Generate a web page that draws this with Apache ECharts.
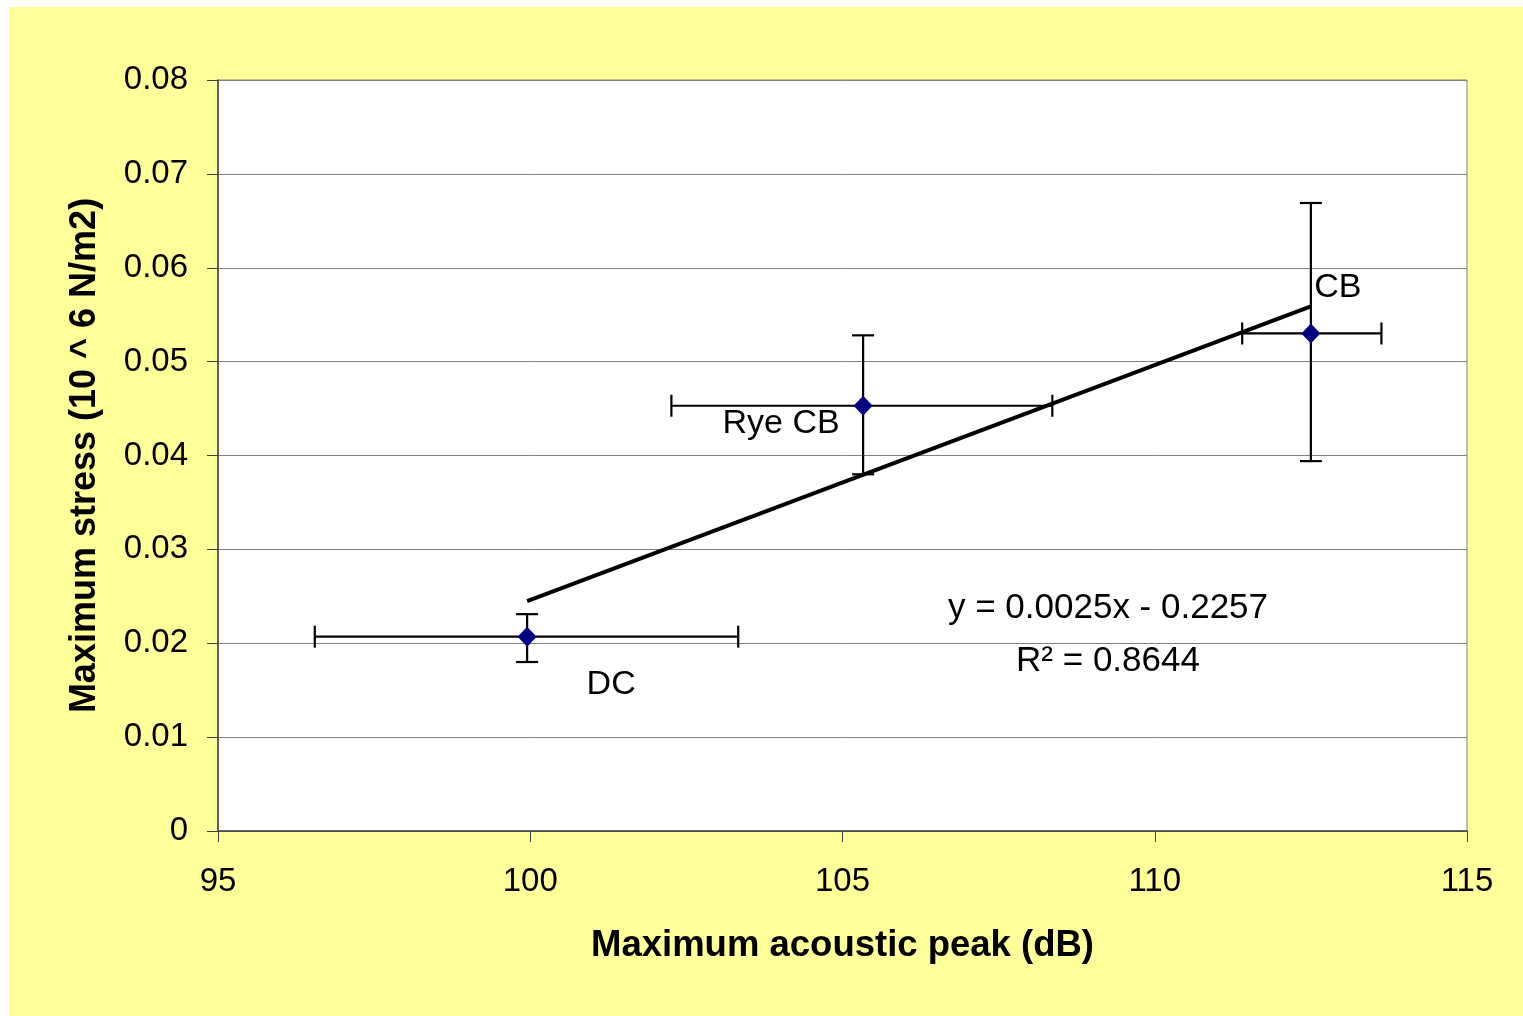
<!DOCTYPE html>
<html>
<head>
<meta charset="utf-8">
<title>Maximum stress vs maximum acoustic peak</title>
<script src="https://cdn.jsdelivr.net/npm/echarts@6/dist/echarts.min.js"></script>
<style>
  html, body { margin: 0; padding: 0; background: #ffffff; }
  #chart { width: 1523px; height: 1016px; }
</style>
</head>
<body>
<div id="chart"></div>
<script>
// Sites and measured values (mean with range for each site)
const sites = ['DC', 'Rye CB', 'CB'];
const peakDb = [99.95, 105.33, 112.5];
const peakDbLow = [96.55, 102.26, 111.4];
const peakDbHigh = [103.33, 108.36, 113.63];
const stress = [0.0207, 0.0453, 0.0530];
const stressLow = [0.0180, 0.0380, 0.0394];
const stressHigh = [0.0231, 0.0528, 0.0669];

// Axis ticks
const xTicks = [95, 100, 105, 110, 115];
const yTicks = ['0', '0.01', '0.02', '0.03', '0.04', '0.05', '0.06', '0.07', '0.08'];

// Linear trendline (coefficients shown rounded to 4 decimals)
const trendSlope = 0.002503;
const trendIntercept = -0.2257;
const trendR2 = 0.8644;

const FONT = "'Liberation Sans', Arial, sans-serif";

// Label placement around each marker (pixels)
const labelShift = { 'DC': [84, 48], 'Rye CB': [-82, 18], 'CB': [27, -46] };

const xMinData = Math.min(...peakDb);
const xMaxData = Math.max(...peakDb);
const trendPoints = [xMinData, xMaxData].map(x => [x, trendSlope * x + trendIntercept]);

const errorData = sites.map((s, i) => [peakDb[i], stress[i], peakDbLow[i], peakDbHigh[i], stressLow[i], stressHigh[i]]);

const labelBase = {
  show: true, position: 'inside',
  fontFamily: FONT, fontSize: 34, color: '#000000',
  textBorderWidth: 0, opacity: 1
};

const scatterData = sites.map((s, i) => ({
  name: s,
  value: [peakDb[i], stress[i]],
  label: Object.assign({}, labelBase, { offset: labelShift[s], formatter: s })
}));

const eqText = 'y = ' + trendSlope.toFixed(4) + 'x ' + (trendIntercept < 0 ? '- ' : '+ ') +
  Math.abs(trendIntercept).toFixed(4) + '\nR\u00B2 = ' + trendR2.toFixed(4);

const chart = echarts.init(document.getElementById('chart'), null, { renderer: 'canvas' });

chart.setOption({
  backgroundColor: '#ffffff',
  animation: false,
  textStyle: { fontFamily: FONT },
  graphic: [
    {
      type: 'rect', left: 9, top: 7, z: -10, silent: true,
      shape: { width: 1514, height: 1009 },
      style: { fill: '#FFFF99' }
    },
    {
      type: 'text', x: 1108, y: 635, z: 10, silent: true,
      style: {
        text: eqText, fontFamily: FONT, fontSize: 35, lineHeight: 53,
        fill: '#000000', align: 'center', verticalAlign: 'middle'
      }
    }
  ],
  grid: {
    left: 218, top: 80, right: 56, bottom: 185,
    show: true, backgroundColor: '#ffffff',
    borderColor: '#808080', borderWidth: 1
  },
  xAxis: {
    type: 'value',
    min: xTicks[0], max: xTicks[xTicks.length - 1], interval: xTicks[1] - xTicks[0],
    name: 'Maximum acoustic peak (dB)',
    nameLocation: 'middle', nameGap: 96,
    nameTextStyle: { fontFamily: FONT, fontSize: 36.5, fontWeight: 'bold', color: '#000' },
    axisLine: { show: true, onZero: false, lineStyle: { color: '#404040', width: 1.5 } },
    axisTick: { show: true, length: 11, lineStyle: { color: '#404040', width: 1 } },
    axisLabel: { margin: 34, fontFamily: FONT, fontSize: 33, color: '#000' },
    splitLine: { show: false }
  },
  yAxis: {
    type: 'value',
    min: 0, max: 0.08, interval: 0.01,
    name: 'Maximum stress (10 ^ 6 N/m2)',
    nameLocation: 'middle', nameGap: 115, nameRotate: 90,
    nameTextStyle: { fontFamily: FONT, fontSize: 36, fontWeight: 'bold', color: '#000' },
    axisLine: { show: true, onZero: false, lineStyle: { color: '#404040', width: 1.5 } },
    axisTick: { show: true, length: 11, lineStyle: { color: '#404040', width: 1 } },
    axisLabel: {
      margin: 30, fontFamily: FONT, fontSize: 33, color: '#000',
      formatter: v => yTicks[Math.round(v / 0.01)]
    },
    splitLine: { show: true, lineStyle: { color: '#808080', width: 1 } }
  },
  series: [
    {
      type: 'custom',
      name: 'range',
      z: 3,
      silent: true,
      data: errorData,
      encode: { x: 0, y: 1 },
      renderItem(params, api) {
        const x = api.value(0), y = api.value(1);
        const c = api.coord([x, y]);
        const xl = api.coord([api.value(2), y])[0];
        const xh = api.coord([api.value(3), y])[0];
        const yl = api.coord([x, api.value(4)])[1];
        const yh = api.coord([x, api.value(5)])[1];
        const cap = 11;
        const style = { stroke: '#000000', lineWidth: 2.2 };
        const seg = (x1, y1, x2, y2) => ({ type: 'line', shape: { x1, y1, x2, y2 }, style });
        return {
          type: 'group',
          children: [
            seg(xl, c[1], xh, c[1]),
            seg(xl, c[1] - cap, xl, c[1] + cap),
            seg(xh, c[1] - cap, xh, c[1] + cap),
            seg(c[0], yl, c[0], yh),
            seg(c[0] - cap, yl, c[0] + cap, yl),
            seg(c[0] - cap, yh, c[0] + cap, yh)
          ]
        };
      }
    },
    {
      type: 'line',
      name: 'trend',
      z: 4,
      silent: true,
      data: trendPoints,
      showSymbol: false,
      lineStyle: { color: '#000000', width: 4 }
    },
    {
      type: 'scatter',
      name: 'sites',
      z: 5,
      symbol: 'diamond',
      symbolSize: [19, 20],
      itemStyle: { color: '#000080', opacity: 1 },
      data: scatterData,
      label: labelBase
    }
  ]
});
</script>
</body>
</html>
